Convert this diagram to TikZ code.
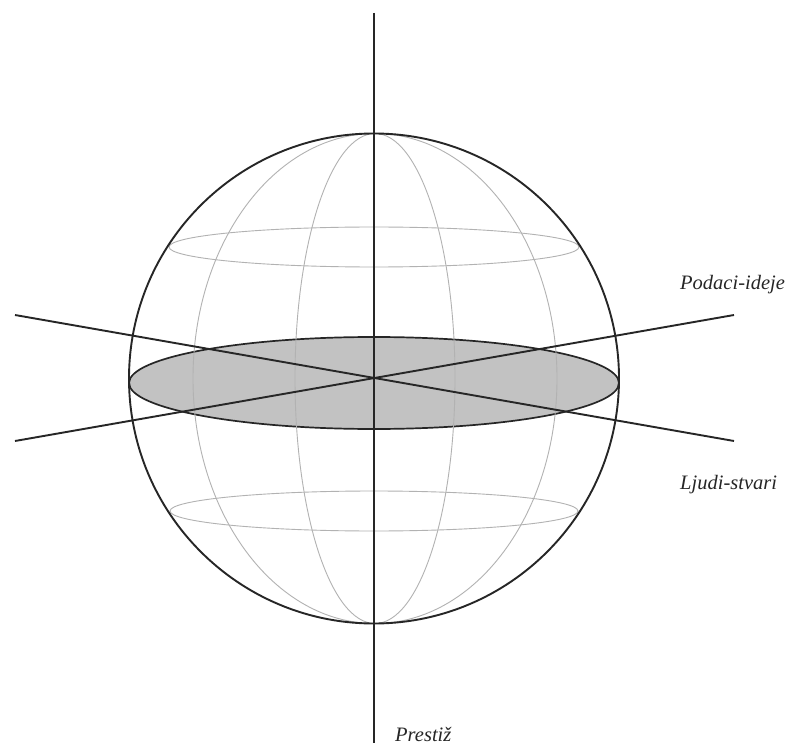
\documentclass[tikz,border=0pt]{standalone}
\usepackage{fontspec}
\setmainfont{Liberation Serif}
\tikzset{
  axisline/.style={draw=black!85,line width=1.9pt},
  gridline/.style={draw=black!30,line width=0.9pt},
  lbl/.style={font=\itshape\fontsize{20.5}{24}\selectfont,text=black!85,inner sep=0pt,anchor=base west}
}
\begin{document}
\begin{tikzpicture}[x=1pt,y=-1pt]
\useasboundingbox (0,0) rectangle (790,746);
\fill[white] (0,0) rectangle (790,746);
\coordinate (C) at (374,378.5);
% equatorial disc
\draw[fill=black!24,axisline,line width=1.7pt] (374,383) ellipse [x radius=245,y radius=46];
% meridians
\draw[gridline] (375,378.5) ellipse [x radius=182,y radius=245];
\draw[gridline] (375,378.5) ellipse [x radius=80,y radius=245];
% latitudes
\draw[gridline] (374,247) ellipse [x radius=205,y radius=20];
\draw[gridline] (374,511) ellipse [x radius=204,y radius=20];
% sphere
\draw[axisline] (C) circle [radius=245];
% axes
\coordinate (VT) at (374,13);
\coordinate (VB) at (374,743);
\coordinate (DA) at (15,315);
\coordinate (DB) at (734,441);
\coordinate (EA) at (15,441);
\coordinate (EB) at (734,315);
\draw[axisline] (VT) -- (VB);
\draw[axisline] (DA) -- (DB);
\draw[axisline] (EA) -- (EB);
\node[lbl] (podaci) at (680,289) {Podaci-ideje};
\node[lbl] (ljudi) at (680,489) {Ljudi-stvari};
\node[lbl] (prestiz) at (395,741.5) {Prestiž};
\end{tikzpicture}
\end{document}
